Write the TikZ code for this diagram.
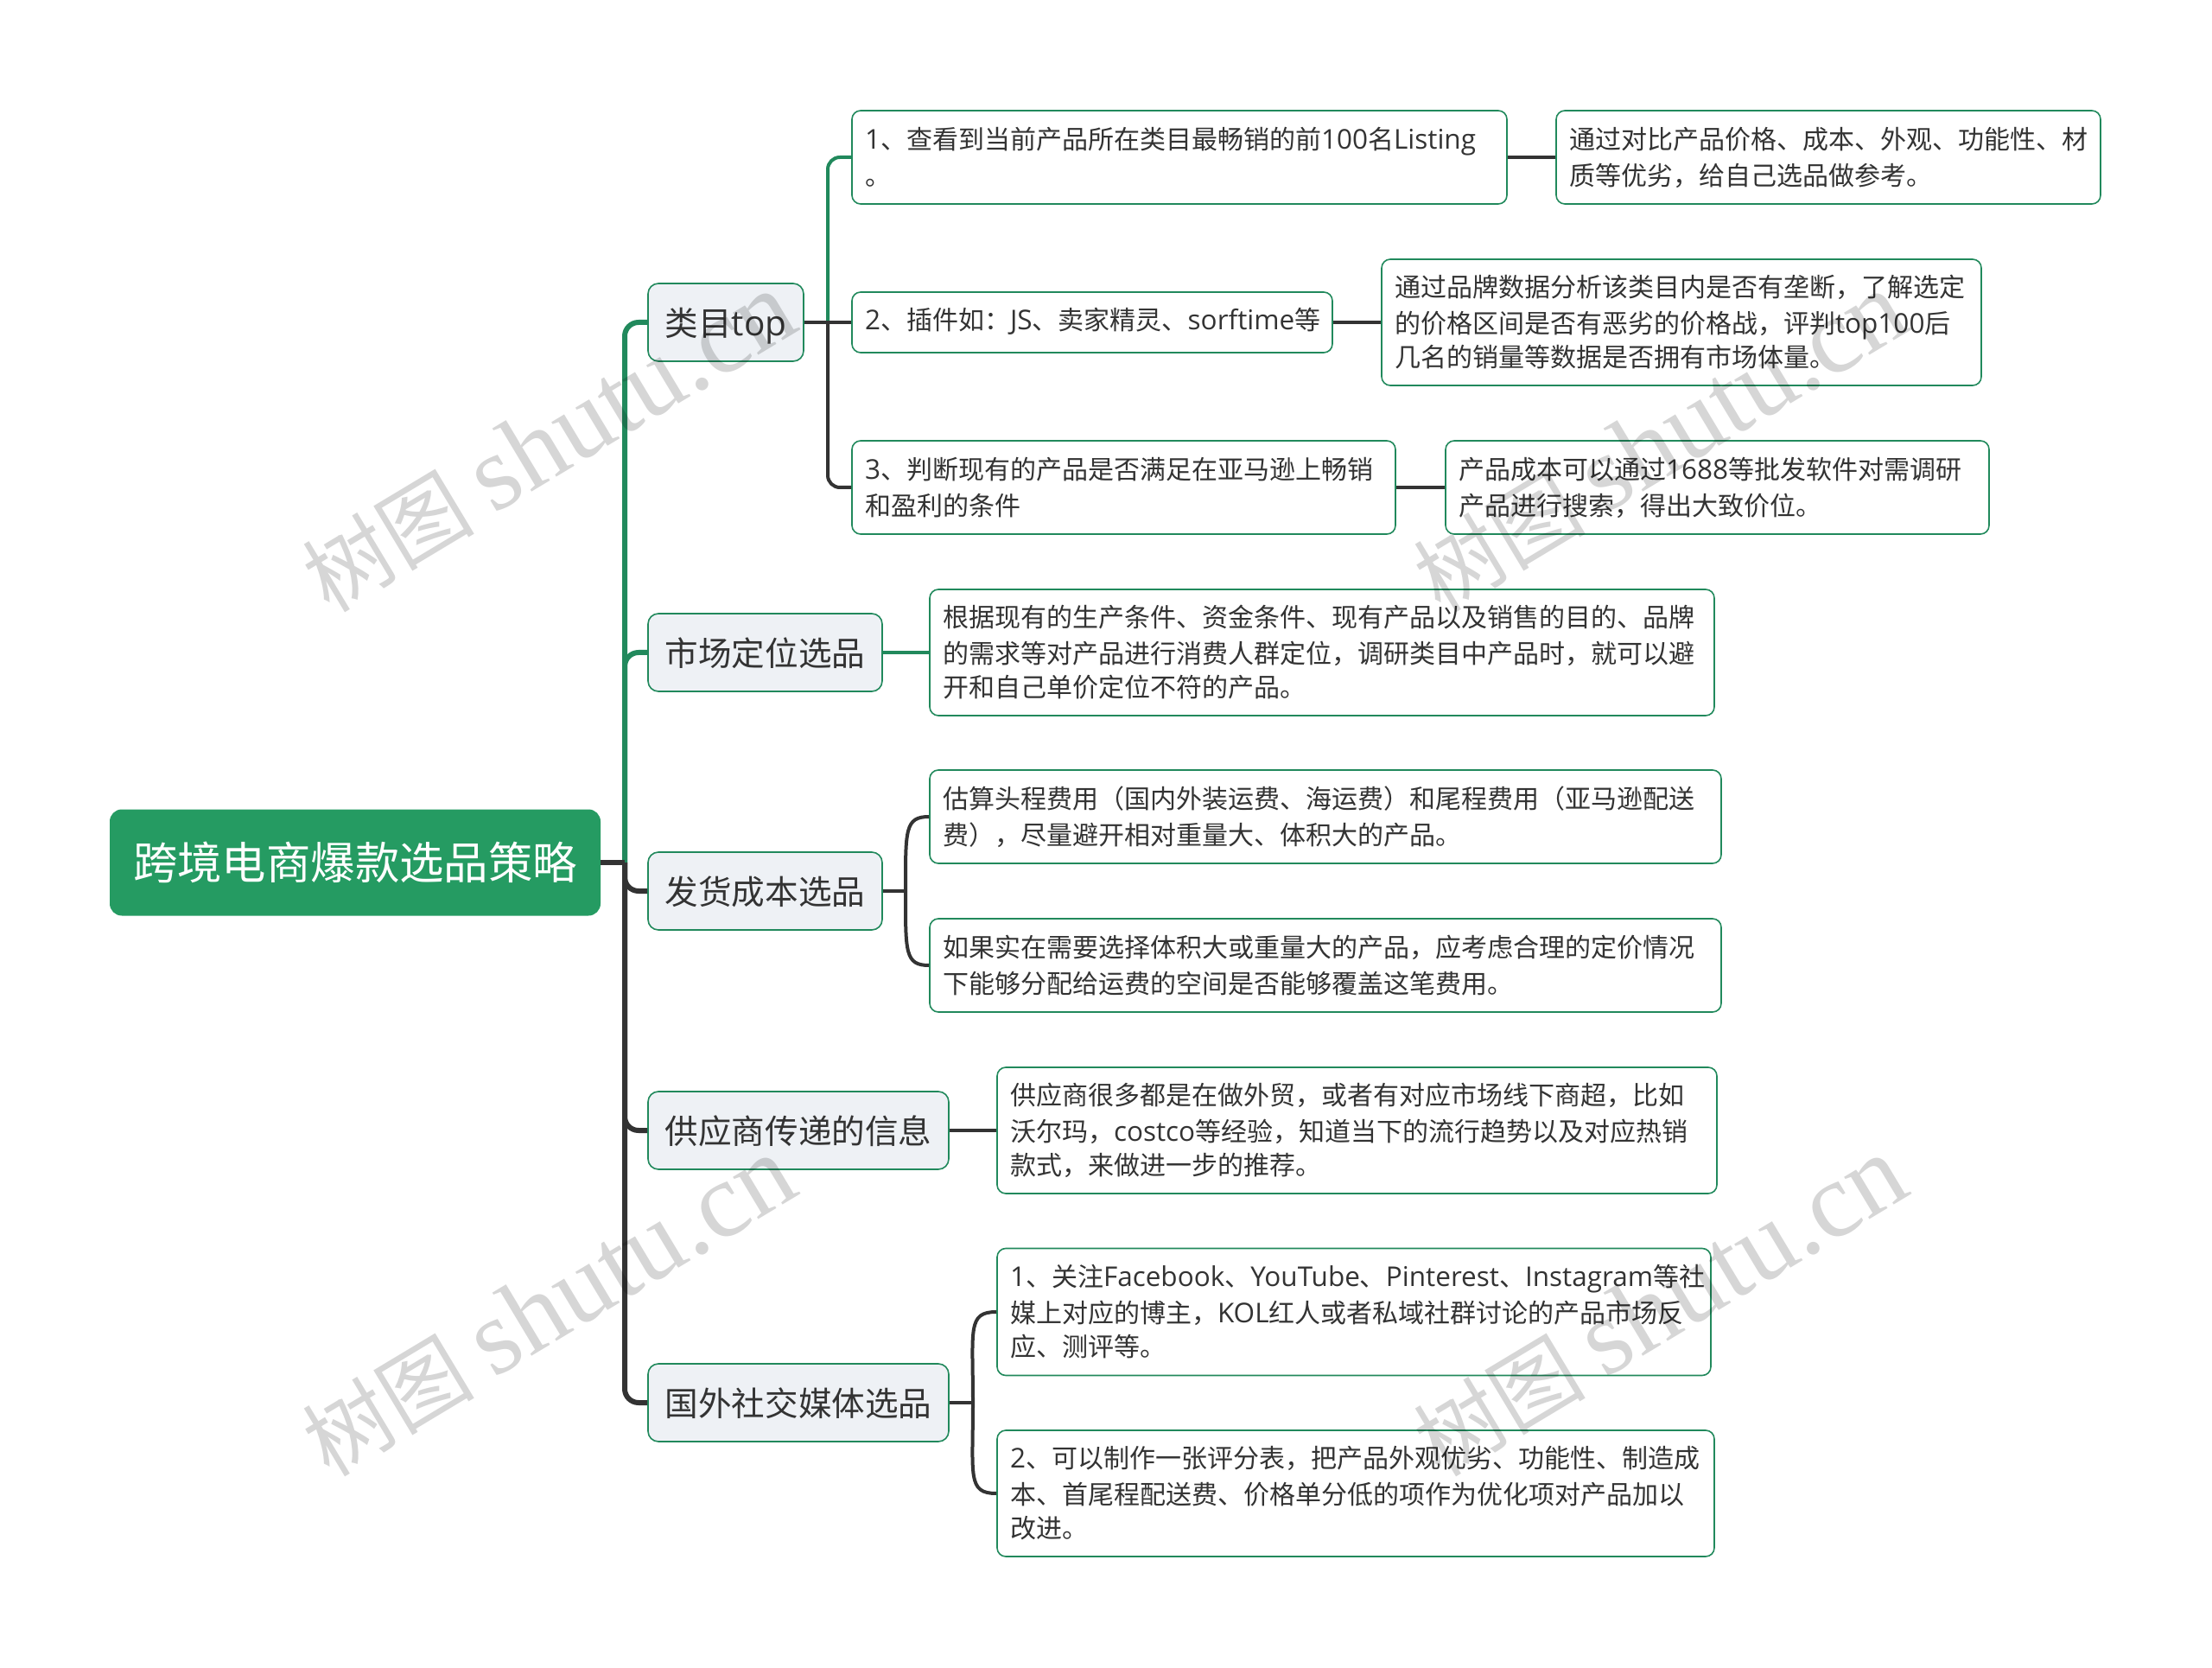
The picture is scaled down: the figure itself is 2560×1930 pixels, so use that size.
\documentclass[tikz,border=0pt]{standalone}
\usepackage{fontspec}
\setmainfont{Noto Sans CJK SC}
\newfontfamily\latinfont[Scale=1.05]{Open Sans}
\newfontfamily\markfont{Liberation Serif}
\newcommand{\la}[1]{{\latinfont #1}}
\newcommand{\wm}{树图 {\markfont\fontsize{62}{62}\selectfont shutu.cn}}
\definecolor{rootgreen}{HTML}{259B62}
\definecolor{linegreen}{HTML}{21895C}
\definecolor{linedark}{HTML}{333333}
\definecolor{branchfill}{HTML}{EEF1F5}
\definecolor{markgray}{HTML}{D6D6D6}
\tikzset{
    sized/.style 2 args={minimum width=#1*0.5pt,minimum height=#2*0.5pt,text width=#1*0.5pt-15pt},
    wmark/.style={text=markgray,rotate=31,font=\fontsize{50}{50}\selectfont,inner sep=0pt},
    elbow/.style={to path={|- (\tikztotarget)}},
    bendup/.style={out=90,in=180,out looseness=2,in looseness=0.8},
    benddown/.style={out=-90,in=180,out looseness=2,in looseness=0.8}
}
\begin{document}
\begin{tikzpicture}[x=0.5pt,y=-0.5pt,text=linedark]
\useasboundingbox (0,0) rectangle (2560,1930);
\coordinate (T) at (723,998);
\coordinate (J1) at (958,373);
\coordinate (J3) at (1048,1031);
\coordinate (J5) at (1126,1623);
\node [rounded corners=7pt,fill=rootgreen,text=white,minimum width=284pt,minimum height=61.5pt,font=\fontsize{25.7}{30}\selectfont] (R) at (411,998) {跨境电商爆款选品策略};
\begin{scope}[every node/.style={rounded corners=6pt,thick,draw=linegreen,fill=branchfill,minimum height=45pt,text height=16.6pt,text depth=1.4pt,font=\fontsize{19.3}{24}\selectfont}]
    \node [minimum width=90pt] (B1) at (840,373) {类目\la{top}};
    \node [minimum width=135.5pt] (B2) at (885.5,755) {市场定位选品};
    \node [minimum width=135.5pt] (B3) at (885.5,1031) {发货成本选品};
    \node [minimum width=174pt] (B4) at (924,1308) {供应商传递的信息};
    \node [minimum width=174pt] (B5) at (924,1623) {国外社交媒体选品};
\end{scope}
\begin{scope}[every node/.style={rounded corners=5pt,thick,draw=linegreen,fill=white,align=left,inner xsep=7.5pt,font=\fontsize{15}{19.5}\selectfont,execute at begin node={\vspace*{1.5pt}}}]
    \node [sized={758}{108}] (C1) at (1365,182) {\la{1}、查看到当前产品所在类目最畅销的前\la{100}名\la{Listing}\\。};
    \node [sized={556}{70}] (C2) at (1264,373) {\la{2}、插件如：\la{JS}、卖家精灵、\la{sorftime}等};
    \node [sized={629}{108}] (C3) at (1300.5,564) {\la{3}、判断现有的产品是否满足在亚马逊上畅销\\和盈利的条件};
    \node [sized={630}{108}] (D1) at (2116,182) {通过对比产品价格、成本、外观、功能性、材\\质等优劣，给自己选品做参考。};
    \node [sized={694}{146}] (D2) at (1946,373) {通过品牌数据分析该类目内是否有垄断，了解选定\\的价格区间是否有恶劣的价格战，评判\la{top100}后\\几名的销量等数据是否拥有市场体量。};
    \node [sized={629}{108}] (D3) at (1987.5,564) {产品成本可以通过\la{1688}等批发软件对需调研\\产品进行搜索，得出大致价位。};
    \node [sized={908}{146}] (E1) at (1530,755) {根据现有的生产条件、资金条件、现有产品以及销售的目的、品牌\\的需求等对产品进行消费人群定位，调研类目中产品时，就可以避\\开和自己单价定位不符的产品。};
    \node [sized={916}{108}] (F1) at (1534,945) {估算头程费用（国内外装运费、海运费）和尾程费用（亚马逊配送\\费），尽量避开相对重量大、体积大的产品。};
    \node [sized={916}{108}] (F2) at (1534,1117) {如果实在需要选择体积大或重量大的产品，应考虑合理的定价情况\\下能够分配给运费的空间是否能够覆盖这笔费用。};
    \node [sized={833}{146}] (G1) at (1570.5,1308) {供应商很多都是在做外贸，或者有对应市场线下商超，比如\\沃尔玛，\la{costco}等经验，知道当下的流行趋势以及对应热销\\款式，来做进一步的推荐。};
    \node [sized={826}{147}] (H1) at (1567,1518) {\la{1}、关注\la{Facebook}、\la{YouTube}、\la{Pinterest}、\la{Instagram}等社\\媒上对应的博主，\la{KOL}红人或者私域社群讨论的产品市场反\\应、测评等。};
    \node [sized={830}{146}] (H2) at (1569,1728) {\la{2}、可以制作一张评分表，把产品外观优劣、功能性、制造成\\本、首尾程配送费、价格单分低的项作为优化项对产品加以\\改进。};
\end{scope}
\begin{scope}[rounded corners=8pt,every edge/.style={draw=linegreen,line width=3pt}]
    \path [-] (T) edge [elbow] (B1.west);
    \path [-] (T) edge [elbow] (B2.west);
\end{scope}
\begin{scope}[rounded corners=8pt,every edge/.style={draw=linedark,line width=3pt}]
    \path [-] (R.east) edge (T);
    \path [-] (T) edge [elbow] (B3.west);
    \path [-] (T) edge [elbow] (B4.west);
    \path [-] (T) edge [elbow] (B5.west);
\end{scope}
\begin{scope}[rounded corners=7pt,every edge/.style={draw=linegreen,line width=2pt}]
    \path [-] (J1) edge [elbow] (C1.west);
    \path [-] (B2.east) edge (E1.west);
\end{scope}
\begin{scope}[rounded corners=7pt,every edge/.style={draw=linedark,line width=2pt}]
    \path [-] (B1.east) edge (C2.west);
    \path [-] (J1) edge [elbow] (C3.west);
    \path [-] (C1.east) edge (D1.west);
    \path [-] (C2.east) edge (D2.west);
    \path [-] (C3.east) edge (D3.west);
    \path [-] (B3.east) edge (J3);
    \path [-] (J3) edge [bendup] (F1.west);
    \path [-] (J3) edge [benddown] (F2.west);
    \path [-] (B4.east) edge (G1.west);
    \path [-] (B5.east) edge (J5);
    \path [-] (J5) edge [bendup] (H1.west);
    \path [-] (J5) edge [benddown] (H2.west);
\end{scope}
\begin{scope}[blend mode=multiply,every node/.style={wmark}]
    \node (M1) at (635,512) {\wm};
    \node (M2) at (1921,512) {\wm};
    \node (M3) at (635,1512) {\wm};
    \node (M4) at (1921,1512) {\wm};
\end{scope}
\end{tikzpicture}
\end{document}
